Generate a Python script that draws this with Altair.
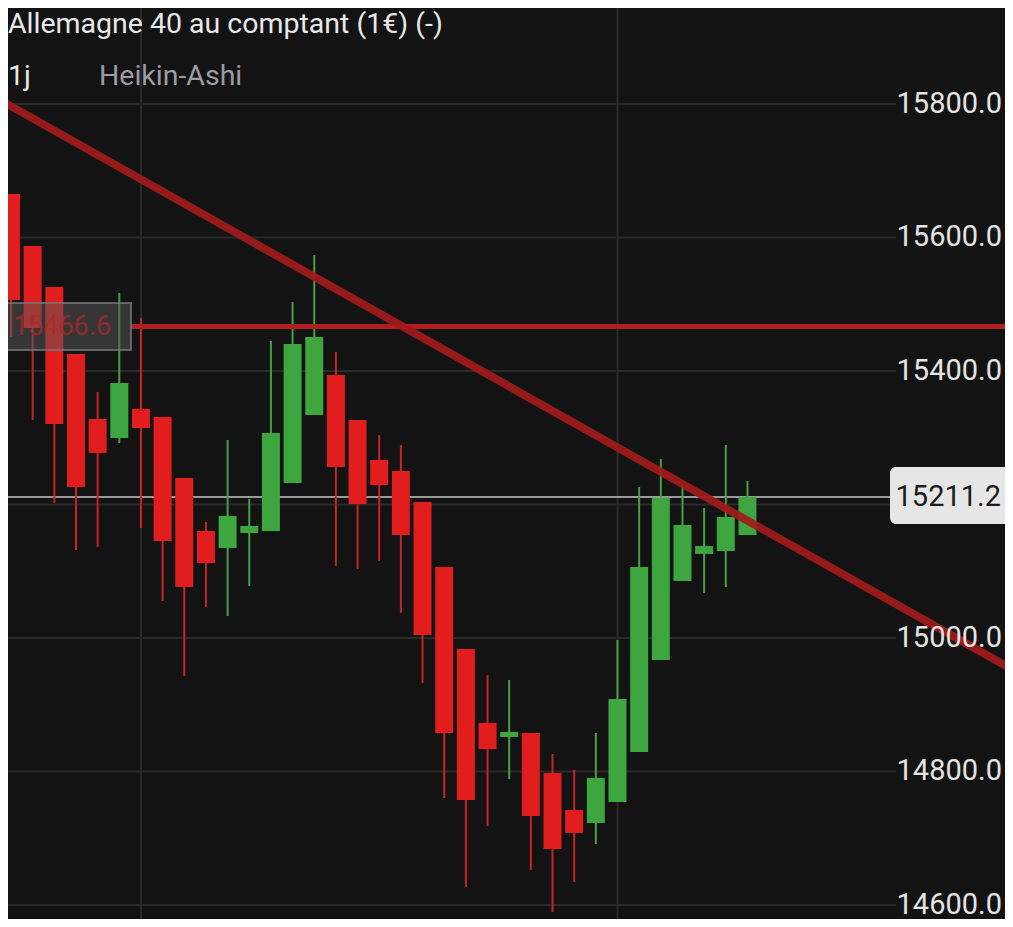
import altair as alt
import pandas as pd

# ---------------- data ----------------
idx = list(range(35))
opens = [15665.2, 15587.3, 15525.8, 15425.5, 15328.1, 15299.6, 15343.1, 15331.1, 15239.7, 15160.3,
         15134.8, 15157.3, 15160.3, 15232.2, 15334.1, 15394.0, 15326.6, 15266.7, 15250.2, 15203.8,
         15106.4, 14983.5, 14872.7, 14851.7, 14857.7, 14797.8, 14742.3, 14722.9, 14754.3, 14829.2,
         14967.0, 15085.4, 15125.9, 15130.3, 15154.3]
closes = [15506.4, 15464.4, 15320.6, 15226.2, 15277.2, 15382.0, 15314.6, 15145.3, 15076.4, 15112.4,
          15182.8, 15167.8, 15307.1, 15440.5, 15450.9, 15256.2, 15200.8, 15229.2, 15154.3, 15004.5,
          14857.7, 14757.3, 14833.7, 14859.2, 14733.4, 14683.9, 14707.9, 14790.3, 14908.6, 15106.4,
          15209.7, 15169.3, 15137.8, 15181.3, 15211.2]
highs = [15665.2, 15587.3, 15525.8, 15425.5, 15368.5, 15516.9, 15479.4, 15331.1, 15239.7, 15173.8,
         15296.6, 15208.3, 15445.0, 15503.4, 15573.8, 15428.5, 15326.6, 15304.1, 15289.1, 15203.8,
         15106.4, 14983.5, 14944.6, 14937.1, 14857.7, 14826.2, 14802.3, 14857.7, 14997.0, 15226.2,
         15268.2, 15232.2, 15194.8, 15289.1, 15235.2]
lows = [15450.9, 15326.6, 15202.3, 15131.8, 15136.3, 15292.1, 15164.8, 15055.4, 14943.1, 15046.5,
        15033.0, 15077.9, 15160.3, 15232.2, 15334.1, 15107.9, 15103.4, 15115.4, 15037.5, 14932.6,
        14760.3, 14627.0, 14718.4, 14788.8, 14652.5, 14589.5, 14634.5, 14691.4, 14754.3, 14829.2,
        14967.0, 15085.4, 15067.4, 15076.4, 15154.3]

grid_values = [14600, 14800, 15000, 15200, 15400, 15600, 15800]
tick_labels = ["14600.0", "14800.0", "15000.0", "15400.0", "15600.0", "15800.0"]
tick_values = [14600, 14800, 15000, 15400, 15600, 15800]
vgrid_idx = [6, 28]

trend_i = [-0.508, 46.26]
trend_v = [15806.0, 14952.1]

last_price = 15211.2
last_label = "15211.2"
level_price = 15466.6
level_label = "15466.6"

title_text = "Allemagne 40 au comptant (1€) (-)"
period_text = "1j"
type_text = "Heikin-Ashi"

# ---------------- styling ----------------
W, H = 997, 911
BG = "#131313"
GRID = "#2a2a2a"
FONT = "Roboto"

xs = alt.Scale(domain=[-0.1385, 45.89], nice=False, zero=False)
ys = alt.Scale(domain=[14579.0, 15943.8], nice=False, zero=False)

df = pd.DataFrame(dict(i=idx, o=opens, c=closes, h=highs, l=lows))

up_cond = "datum.c >= datum.o"

grid = alt.Chart(pd.DataFrame({"v": grid_values})).mark_rule(
    color=GRID, strokeWidth=2).encode(
    y=alt.Y("v:Q", scale=ys, axis=None), x=alt.value(0), x2=alt.value(W))

vgrid = alt.Chart(pd.DataFrame({"i": vgrid_idx})).mark_rule(
    color=GRID, strokeWidth=2).encode(
    x=alt.X("i:Q", scale=xs, axis=None), y=alt.value(0), y2=alt.value(H))

price_line = alt.Chart(pd.DataFrame({"v": [last_price]})).mark_rule(
    color="#9a9a9a", strokeWidth=2).encode(
    y=alt.Y("v:Q", scale=ys, axis=None), x=alt.value(0), x2=alt.value(882))

wicks = alt.Chart(df).mark_rule(strokeWidth=2, clip=True).encode(
    x=alt.X("i:Q", scale=xs, axis=None),
    y=alt.Y("l:Q", scale=ys, axis=None), y2="h:Q",
    color=alt.condition(up_cond, alt.value("#4a9e4a"), alt.value("#c82424")))

bodies = alt.Chart(df).transform_calculate(
    x1="datum.i - 0.415", x2="datum.i + 0.415").mark_rect(clip=True).encode(
    x=alt.X("x1:Q", scale=xs, axis=None), x2="x2:Q",
    y=alt.Y("o:Q", scale=ys, axis=None), y2="c:Q",
    color=alt.condition(up_cond, alt.value("#3ea63e"), alt.value("#e11d1d")))

level_line = alt.Chart(pd.DataFrame({"v": [level_price]})).mark_rule(
    color="#b01e1e", strokeWidth=5).encode(
    y=alt.Y("v:Q", scale=ys, axis=None), x=alt.value(123), x2=alt.value(W))

trend = alt.Chart(pd.DataFrame({"i": trend_i, "v": trend_v})).mark_line(
    color="#a01b1b", strokeWidth=8, opacity=0.93, clip=True).encode(
    x=alt.X("i:Q", scale=xs, axis=None), y=alt.Y("v:Q", scale=ys, axis=None))

level_box = alt.Chart(pd.DataFrame({"v": [level_price]})).transform_calculate(
    lo="datum.v - 35.1", hi="datum.v + 35.3").mark_rect(
    fill="#5a5a5a", fillOpacity=0.5, stroke="#767676", strokeWidth=2, strokeOpacity=0.8).encode(
    y=alt.Y("lo:Q", scale=ys, axis=None), y2="hi:Q", x=alt.value(-8), x2=alt.value(123))

level_text = alt.Chart(pd.DataFrame({"v": [level_price], "t": [level_label]})).mark_text(
    font=FONT, fontSize=27, color="#b02828", opacity=0.75, align="center", baseline="middle").encode(
    y=alt.Y("v:Q", scale=ys, axis=None), x=alt.value(54), text="t:N")

tick_df = pd.DataFrame({"v": tick_values, "t": tick_labels})
tick_bg = alt.Chart(tick_df).mark_rule(color=BG, strokeWidth=30).encode(
    y=alt.Y("v:Q", scale=ys, axis=None), x=alt.value(888), x2=alt.value(997))
tick_text = alt.Chart(tick_df).mark_text(
    font=FONT, fontSize=29, color="#e4e4e4", align="right", baseline="middle").encode(
    y=alt.Y("v:Q", scale=ys, axis=None), x=alt.value(994), text="t:N")

price_box = alt.Chart(pd.DataFrame({"v": [last_price]})).transform_calculate(
    lo="datum.v - 40.4", hi="datum.v + 45.0").mark_rect(
    fill="#e6e6e6", cornerRadius=6).encode(
    y=alt.Y("lo:Q", scale=ys, axis=None), y2="hi:Q", x=alt.value(882), x2=alt.value(1010))
price_text = alt.Chart(pd.DataFrame({"v": [last_price], "t": [last_label]})).mark_text(
    font=FONT, fontSize=29, color="#1c1c1c", align="right", baseline="middle").encode(
    y=alt.Y("v:Q", scale=ys, axis=None), x=alt.value(993), text="t:N")

one = pd.DataFrame({"t": [title_text], "p": [period_text], "k": [type_text]})
title = alt.Chart(one).mark_text(
    font=FONT, fontSize=28.5, color="#e8e8e8", align="left", baseline="alphabetic").encode(
    x=alt.value(0), y=alt.value(25), text="t:N")
period = alt.Chart(one).mark_text(
    font=FONT, fontSize=28.5, color="#e8e8e8", align="left", baseline="alphabetic").encode(
    x=alt.value(0), y=alt.value(77), text="p:N")
kind = alt.Chart(one).mark_text(
    font=FONT, fontSize=28.5, color="#9c9ca4", align="left", baseline="alphabetic").encode(
    x=alt.value(91), y=alt.value(77), text="k:N")

chart = alt.layer(
    grid, vgrid, price_line, wicks, bodies, level_line, tick_bg, trend,
    level_box, level_text, tick_text, price_box, price_text, title, period, kind
).properties(
    width=W, height=H, background=BG, padding=0,
    autosize=alt.AutoSizeParams(type="none")
).configure_view(stroke=None)

chart.save("out.html", embed_options={"renderer": "svg", "actions": False})
